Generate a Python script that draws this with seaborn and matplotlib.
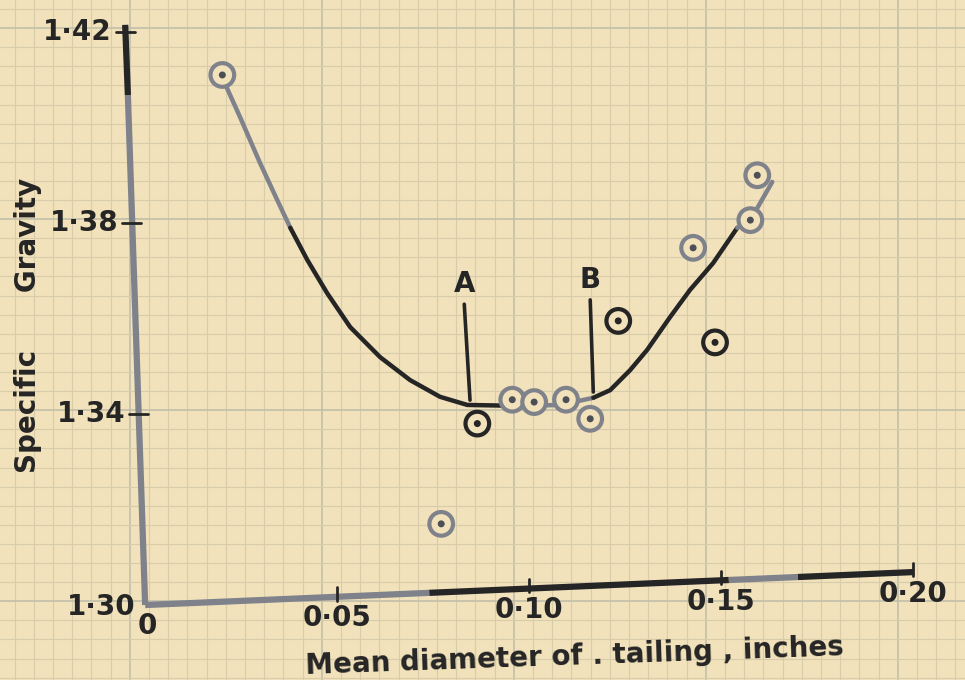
import matplotlib
matplotlib.use("Agg")
import matplotlib.pyplot as plt
import seaborn as sns
import pandas as pd
import numpy as np

# Measured tailings: mean diameter (inches) and specific gravity
diam = [0.0201, 0.0865, 0.0771, 0.0956, 0.1013, 0.1096, 0.1159, 0.1232,
        0.1427, 0.1484, 0.1576, 0.1594]
sg = [1.411, 1.338, 1.317, 1.343, 1.3425, 1.343, 1.339, 1.3595,
      1.3748, 1.355, 1.3806, 1.390]
ink = ["grey", "black", "grey", "grey", "grey", "grey", "grey", "black",
       "grey", "black", "grey", "grey"]

# Smooth curve drawn through the points
curve_x = [0.0201, 0.0247, 0.0299, 0.0344, 0.0378, 0.0422, 0.0474, 0.0534,
           0.0612, 0.0690, 0.0768, 0.0839, 0.0977, 0.1081, 0.1167, 0.1211,
           0.1263, 0.1307, 0.1367, 0.1419, 0.1479, 0.1542, 0.1576, 0.1633]
curve_y = [1.4104, 1.4022, 1.3926, 1.3848, 1.3790, 1.3723, 1.3653, 1.3582,
           1.3519, 1.3471, 1.3436, 1.3419, 1.3417, 1.3419, 1.3434, 1.3450,
           1.3492, 1.3534, 1.3603, 1.3660, 1.3716, 1.3790, 1.3806, 1.3886]

x_ticks = [0.05, 0.10, 0.15, 0.20]
x_tick_labels = ["0·05", "0·10", "0·15", "0·20"]
y_ticks = [1.42, 1.38, 1.34]
y_tick_labels = ["1·42", "1·38", "1·34"]

# Limits of the sections A and B
marks = {"A": (0.0831, 0.0846, 1.3630, 1.3429),
         "B": (0.1159, 0.1167, 1.3639, 1.3446)}

PAPER = "#f1e2bb"
BLACK = "#262525"
GREY = "#7f828b"
FONT = ["DejaVu Sans"]
XLIM = (-0.0378, 0.2135)
YLIM = (1.2843, 1.4267)

sns.set_theme(style="white")
plt.rcParams["font.family"] = FONT

fig = plt.figure(figsize=(9.65, 6.8), dpi=100, facecolor=PAPER)
ax = fig.add_axes([0, 0, 1, 1])
ax.set_facecolor(PAPER)
for s in ax.spines.values():
    s.set_visible(False)

# Graph paper ruling (heavier line every tenth square)
ax.set_xticks(np.arange(-0.034, 0.2135, 0.005), minor=True)
ax.set_yticks(np.arange(1.2848, 1.4267, 0.004), minor=True)
ax.set_xticks(np.arange(-0.004, 0.2135, 0.05))
ax.set_yticks(np.arange(1.3008, 1.4267, 0.04))
ax.set_xlim(*XLIM)
ax.set_ylim(*YLIM)
ax.grid(which="minor", color="#d7cdab", lw=0.8)
ax.grid(which="major", color="#c2bfaa", lw=1.2)
ax.tick_params(which="both", length=0, labelbottom=False, labelleft=False)
ax.set_axisbelow(True)

# Hand-ruled axes in grey and black ink, slightly tilted
ax.plot([0.0, -0.0045], [1.30, 1.4068], color=GREY, lw=4.5, solid_capstyle="butt", zorder=3)
ax.plot([-0.0045, -0.0052], [1.4068, 1.4215], color=BLACK, lw=4.5, solid_capstyle="butt", zorder=3)
tilt = lambda x: 1.30 + 0.0069 * x / 0.20
ax.plot([0.0, 0.074], [tilt(0.0), tilt(0.074)], color=GREY, lw=4.5, solid_capstyle="butt", zorder=3)
ax.plot([0.074, 0.152], [tilt(0.074), tilt(0.152)], color=BLACK, lw=4.5, solid_capstyle="butt", zorder=3)
ax.plot([0.152, 0.170], [tilt(0.152), tilt(0.170)], color=GREY, lw=4.5, solid_capstyle="butt", zorder=3)
ax.plot([0.170, 0.200], [tilt(0.170), tilt(0.200)], color=BLACK, lw=4.5, solid_capstyle="butt", zorder=3)

tick_font = dict(fontsize=20, color=BLACK, family=FONT, weight="bold")
for xv, lab in zip(x_ticks, x_tick_labels):
    ax.plot([xv, xv], [tilt(xv) - 0.0008, tilt(xv) + 0.002], color=BLACK, lw=2, zorder=3)
    ax.text(xv, tilt(xv) - 0.0016, lab, ha="center", va="top", **tick_font)
for yv, lab in zip(y_ticks, y_tick_labels):
    xa = -0.0052 * (yv - 1.30) / 0.12
    ax.plot([xa - 0.0025, xa + 0.0025], [yv, yv], color=BLACK, lw=2, zorder=3)
    ax.text(xa - 0.0035, yv, lab, ha="right", va="center", **tick_font)
ax.text(-0.0025, 1.2995, "1·30", ha="right", va="center", **tick_font)
ax.text(0.0005, 1.2985, "0", ha="center", va="top", **tick_font)

label_font = dict(fontsize=20, color=BLACK, family=FONT, weight="bold")
ax.text(-0.0305, 1.3586, "Specific      Gravity", rotation=90, ha="center", va="center", **label_font)
ax.text(0.1118, 1.2893, "Mean diameter of . tailing , inches", rotation=2.0,
        ha="center", va="center", **label_font)

# Curve, with grey ink at both ends and across the flat stretch
cdf = pd.DataFrame({"d": curve_x, "sg": curve_y})
pieces = [(slice(0, 5), GREY), (slice(4, 13), BLACK), (slice(12, 15), GREY),
          (slice(14, 22), BLACK), (slice(21, 24), GREY)]
for sl, col in pieces:
    sns.lineplot(data=cdf.iloc[sl], x="d", y="sg", sort=False, color=col, lw=3.2,
                 ax=ax, zorder=4)

# Section markers A and B
for lab, (x0, x1, y0, y1) in marks.items():
    ax.plot([x0, x1], [y0, y1], color=BLACK, lw=2.6, zorder=4)
    ax.text(x0, y0 + 0.0013, lab, ha="center", va="bottom", **label_font)

# Observations: ringed dots
pdf = pd.DataFrame({"d": diam, "sg": sg, "ink": ink})
palette = {"grey": GREY, "black": BLACK}
sns.scatterplot(data=pdf, x="d", y="sg", hue="ink", palette=palette, marker="o",
                s=290, legend=False, ax=ax, zorder=5)
rings = ax.collections[-1]
rings.set_edgecolors(rings.get_facecolors())
rings.set_facecolors(PAPER)
rings.set_linewidths(3.0)
dot_colours = ["#4d4f56" if k == "grey" else BLACK for k in ink]
ax.scatter(pdf["d"], pdf["sg"], s=16, color=dot_colours, zorder=6)

ax.set_xlim(*XLIM)
ax.set_ylim(*YLIM)
ax.set_xlabel("")
ax.set_ylabel("")
fig.savefig("out.png", dpi=100, facecolor=PAPER)
